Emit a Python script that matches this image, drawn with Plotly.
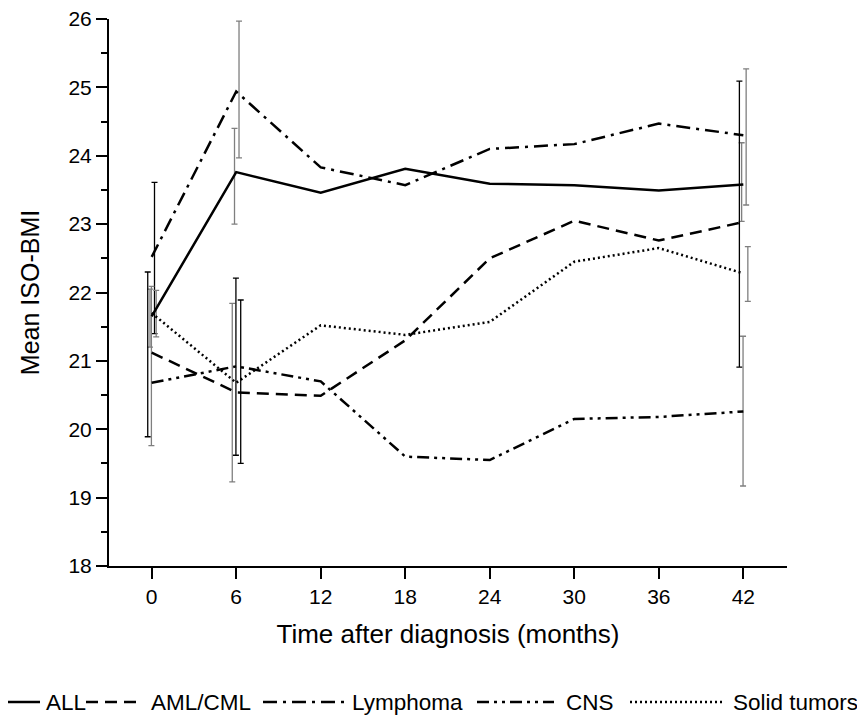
import plotly.graph_objects as go

months = [0, 6, 12, 18, 24, 30, 36, 42]
series_names = ["ALL", "AML/CML", "Lymphoma", "CNS", "Solid tumors"]

all_vals = [21.65, 23.76, 23.46, 23.81, 23.59, 23.57, 23.49, 23.58]
aml_vals = [21.12, 20.54, 20.49, 21.30, 22.50, 23.05, 22.76, 23.03]
lym_vals = [22.52, 24.94, 23.83, 23.57, 24.10, 24.17, 24.47, 24.30]
cns_vals = [20.68, 20.92, 20.70, 19.60, 19.55, 20.15, 20.18, 20.26]
sol_vals = [21.70, 20.68, 21.52, 21.38, 21.57, 22.45, 22.65, 22.28]

# error bars shown at 0, 6 and 42 months (upper / lower limits)
err_idx = [0, 1, 7]
all_hi = [22.05, 24.40, 24.19]
all_lo = [21.20, 23.00, 23.04]
aml_hi = [22.30, 21.84, 25.09]
aml_lo = [19.89, 19.23, 20.91]
lym_hi = [23.61, 25.97, 25.27]
lym_lo = [21.40, 23.97, 23.28]
cns_hi = [22.09, 22.21, 21.36]
cns_lo = [19.76, 19.62, 19.17]
sol_hi = [22.03, 21.89, 22.67]
sol_lo = [21.35, 19.50, 21.87]

values = [all_vals, aml_vals, lym_vals, cns_vals, sol_vals]
his = [all_hi, aml_hi, lym_hi, cns_hi, sol_hi]
los = [all_lo, aml_lo, lym_lo, cns_lo, sol_lo]

# styling
dashes = ["solid", "12px,7px", "14px,6px,3px,6px", "12px,5px,3px,5px,3px,5px", "2px,3px"]
offsets = [-0.12, -0.28, 0.2, -0.02, 0.32]
GRAY = "#7f7f7f"
BLACK = "#000000"
bar_colors = [
    [GRAY, GRAY, GRAY],
    [BLACK, GRAY, BLACK],
    [BLACK, GRAY, GRAY],
    [GRAY, BLACK, GRAY],
    [GRAY, BLACK, GRAY],
]
FONT = "Liberation Sans, Arial, sans-serif"

# page has an 8px body margin; figure-pixel layout below
OFF = 8
L, R, T, B = 109 - OFF, 78 + OFF, 19 - OFF, 158 + OFF
W, H = 865, 724
PW, PH = W - L - R, H - T - B

def px(xp):
    return (xp - OFF - L) / PW

def py(yp):
    return (H - B - (yp - OFF)) / PH

fig = go.Figure()

for s in range(5):
    for k, i in enumerate(err_idx):
        y = values[s][i]
        fig.add_trace(go.Scatter(
            x=[months[i] + offsets[s]], y=[y], mode="markers",
            marker=dict(size=0.1, color="rgba(0,0,0,0)"),
            error_y=dict(type="data", symmetric=False,
                         array=[his[s][k] - y], arrayminus=[y - los[s][k]],
                         color=bar_colors[s][k], thickness=1.3, width=3),
            showlegend=False, hoverinfo="skip"))

for s in range(5):
    fig.add_trace(go.Scatter(
        x=months, y=values[s], mode="lines", name=series_names[s],
        line=dict(color="black", width=2.5, dash=dashes[s]),
        showlegend=False))

# manual legend row (sample line + label), page-pixel layout
leg_y = 702
leg_samples = [(8, 40), (86, 143), (263, 346), (477, 554), (630, 724)]
leg_text_x = [45, 150, 351, 565, 732]
shapes = []
annotations = []
for s in range(5):
    x0, x1 = leg_samples[s]
    shapes.append(dict(type="line", xref="paper", yref="paper",
                       x0=px(x0), x1=px(x1), y0=py(leg_y), y1=py(leg_y),
                       line=dict(color="black", width=2.5, dash=dashes[s])))
    annotations.append(dict(xref="paper", yref="paper", x=px(leg_text_x[s]), y=py(leg_y),
                            xanchor="left", yanchor="middle", showarrow=False, borderpad=0,
                            text=series_names[s], font=dict(size=22.5, family=FONT, color="black")))

fig.update_layout(
    width=W, height=H,
    margin=dict(l=L, r=R, t=T, b=B, autoexpand=False),
    plot_bgcolor="white", paper_bgcolor="white",
    font=dict(family=FONT, size=21, color="black"),
    showlegend=False,
    shapes=shapes, annotations=annotations,
)
fig.update_xaxes(
    range=[-3.03, 45.1], tickvals=months, ticktext=[str(m) for m in months],
    showgrid=False, zeroline=False, showline=True, linecolor="black", linewidth=2,
    ticks="outside", ticklen=11, tickwidth=2, tickcolor="black", automargin=False,
    ticklabeloverflow="allow",
    title=dict(text="Time after diagnosis (months)", font=dict(size=26), standoff=18),
    tickfont=dict(size=21))
fig.update_yaxes(
    range=[18, 26], tickvals=[18, 19, 20, 21, 22, 23, 24, 25, 26],
    showgrid=False, zeroline=False, showline=True, linecolor="black", linewidth=2,
    ticks="outside", ticklen=11, tickwidth=2, tickcolor="black", automargin=False,
    ticklabeloverflow="allow",
    minor=dict(tickvals=[18.5, 19.5, 20.5, 21.5, 22.5, 23.5, 24.5, 25.5],
               ticks="outside", ticklen=6, tickwidth=2, tickcolor="black"),
    title=dict(text="Mean ISO-BMI", font=dict(size=25), standoff=22),
    tickfont=dict(size=21))

fig.write_html("out.html")
